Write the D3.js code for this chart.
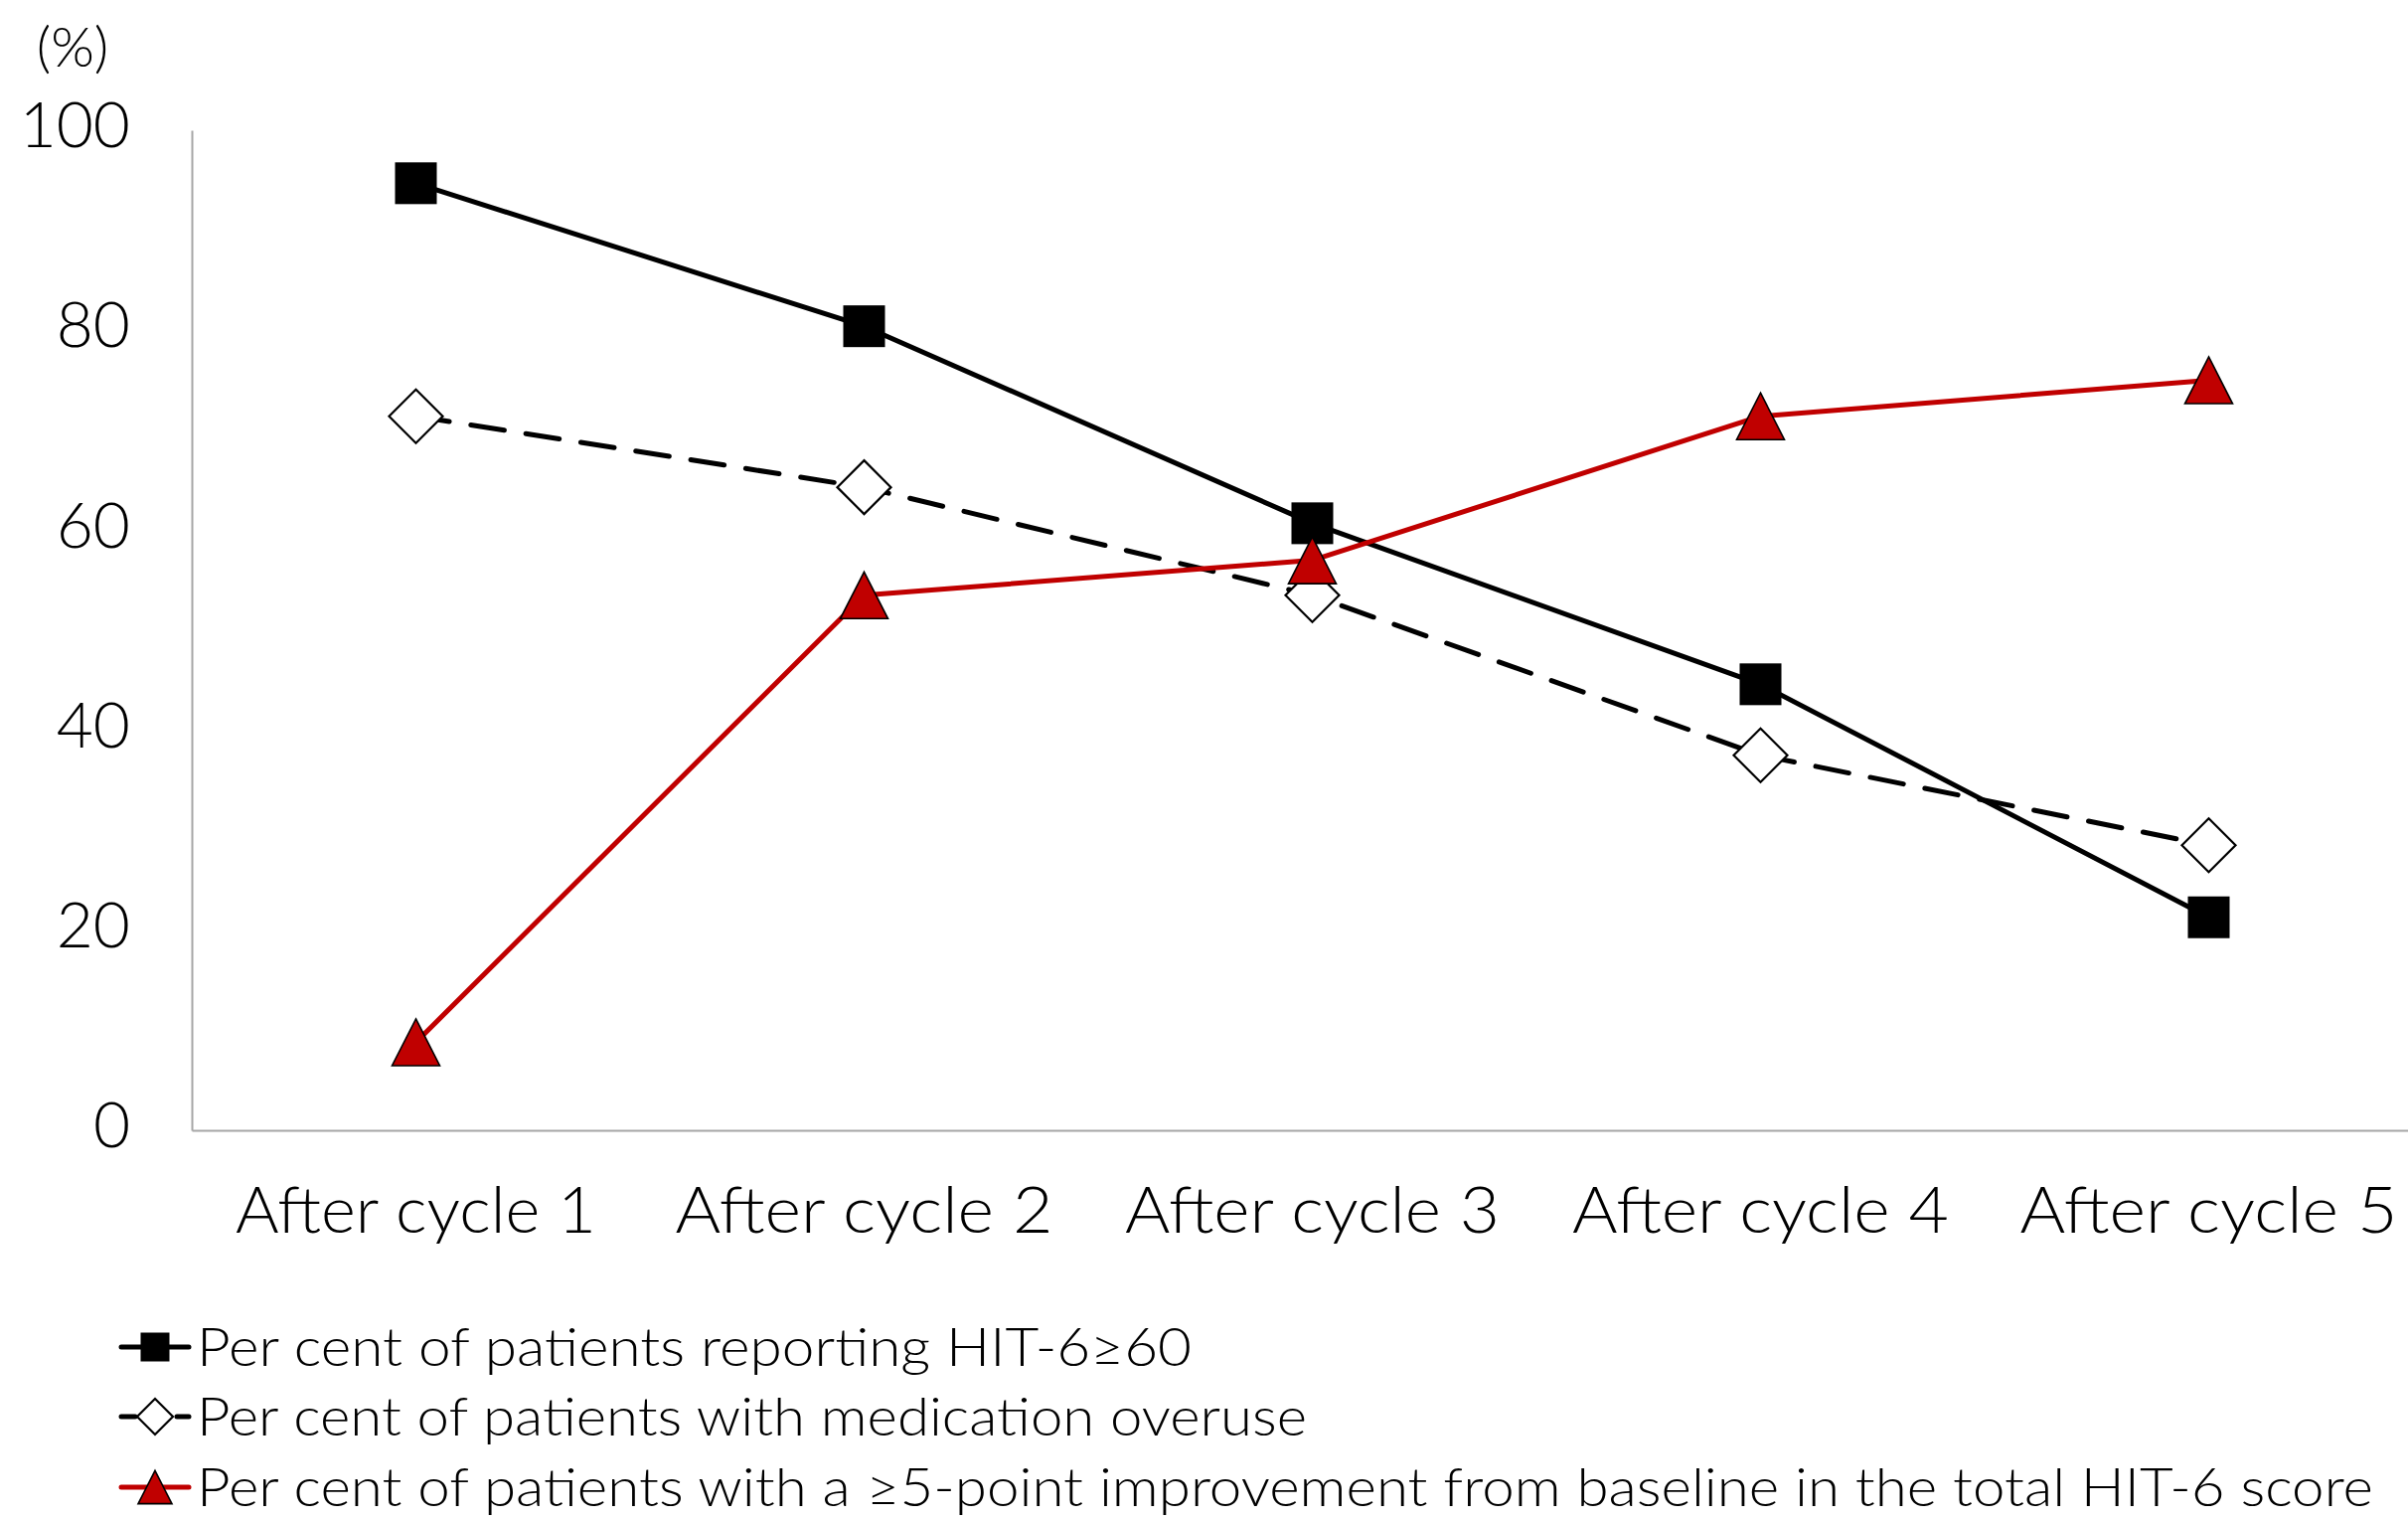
<!DOCTYPE html>
<html>
<head>
<meta charset="utf-8">
<script src="https://cdn.jsdelivr.net/npm/d3@7"></script>
<style>
  html, body { margin: 0; padding: 0; background: #fff; }
  svg text { font-family: "Lato", "Noto Sans", sans-serif; font-weight: 300; fill: #000; }
</style>
</head>
<body>
<svg id="chart" width="2423" height="1529"></svg>
<script>
// Categories and per-series percentages
const categories = ["After cycle 1", "After cycle 2", "After cycle 3", "After cycle 4", "After cycle 5"];
const hit6Above60 = [94.7, 80.4, 60.7, 44.6, 21.3];
const medicationOveruse = [71.4, 64.3, 53.5, 37.5, 28.5];
const improvement5pt = [8.8, 53.5, 57.0, 71.4, 75.0];
const yTicks = [0, 20, 40, 60, 80, 100];
const seriesNames = [
  "Per cent of patients reporting HIT-6\u226560",
  "Per cent of patients with medication overuse",
  "Per cent of patients with a \u22655-point improvement from baseline in the total HIT-6 score"
];

const svg = d3.select("#chart");
const plotLeft = 193, plotTop = 131, plotBottom = 1137, band = 451;

const x = d3.scaleBand().domain(categories).range([plotLeft, plotLeft + band * categories.length]).padding(0);
const y = d3.scaleLinear().domain([0, 100]).range([plotBottom, plotTop]);
const cx = c => x(c) + x.bandwidth() / 2;

// Axes
const yAxis = svg.append("g").attr("transform", `translate(${plotLeft},0)`)
  .call(d3.axisLeft(y).tickValues(yTicks).tickSize(0).tickPadding(62));
yAxis.select(".domain").attr("stroke", "#a6a6a6").attr("stroke-width", 2);
yAxis.selectAll("text").attr("font-size", 64).attr("dy", "0.26em")
  .style("font-family", "Lato, sans-serif").style("font-weight", 300);

const labelWidths = [363, 380, 377, 379, 380];
const xAxis = svg.append("g").attr("transform", `translate(0,${plotBottom})`)
  .call(d3.axisBottom(x).tickSize(0));
xAxis.select(".domain").attr("stroke", "#a6a6a6").attr("stroke-width", 2);
xAxis.selectAll("text").attr("font-size", 66).attr("y", 103).attr("dy", 0)
  .attr("textLength", (d, i) => labelWidths[i]).attr("lengthAdjust", "spacingAndGlyphs")
  .style("font-family", "Lato, sans-serif").style("font-weight", 300);

// Unit label
svg.append("text").attr("x", 73).attr("y", 67).attr("text-anchor", "middle")
  .attr("font-size", 56).text("(%)");

// Marker shapes
function drawMarker(g, type, px, py, s) {
  if (type === "square") {
    g.append("rect").attr("x", px - s / 2).attr("y", py - s / 2).attr("width", s).attr("height", s)
      .attr("fill", "#000");
  } else if (type === "diamond") {
    const h = s / 2;
    g.append("path").attr("d", `M${px},${py - h}L${px + h},${py}L${px},${py + h}L${px - h},${py}Z`)
      .attr("fill", "#fff").attr("stroke", "#000").attr("stroke-width", 2.2);
  } else {
    const w = s, hh = s * 0.98;
    g.append("path").attr("d", `M${px},${py - hh / 2}L${px + w / 2},${py + hh / 2}L${px - w / 2},${py + hh / 2}Z`)
      .attr("fill", "#c00000").attr("stroke", "#000").attr("stroke-width", 1.6);
  }
}

const series = [
  { values: hit6Above60, marker: "square", size: 42, color: "#000", dash: null },
  { values: medicationOveruse, marker: "diamond", size: 54, color: "#000", dash: "34 22" },
  { values: improvement5pt, marker: "triangle", size: 48, color: "#c00000", dash: null }
];

const line = d3.line().x(d => cx(d.c)).y(d => y(d.v));

series.forEach(s => {
  const pts = categories.map((c, i) => ({ c, v: s.values[i] }));
  const g = svg.append("g");
  g.append("path").datum(pts).attr("d", line).attr("fill", "none")
    .attr("stroke", s.color).attr("stroke-width", 5)
    .attr("stroke-linecap", "round").attr("stroke-linejoin", "round")
    .attr("stroke-dasharray", s.dash);
  pts.forEach(p => drawMarker(g, s.marker, cx(p.c), y(p.v), s.size));
});

// Legend
const legendY = [1355, 1425, 1496];
const legendWidths = [1001, 1117, 2190];
series.forEach((s, i) => {
  const g = svg.append("g");
  const ly = legendY[i];
  if (s.dash) {
    g.append("line").attr("x1", 122).attr("x2", 136).attr("y1", ly).attr("y2", ly)
      .attr("stroke", s.color).attr("stroke-width", 5).attr("stroke-linecap", "round");
    g.append("line").attr("x1", 178).attr("x2", 190).attr("y1", ly).attr("y2", ly)
      .attr("stroke", s.color).attr("stroke-width", 5).attr("stroke-linecap", "round");
  } else {
    g.append("line").attr("x1", 122).attr("x2", 190).attr("y1", ly).attr("y2", ly)
      .attr("stroke", s.color).attr("stroke-width", 5).attr("stroke-linecap", "round");
  }
  const ms = s.marker === "square" ? 29 : (s.marker === "diamond" ? 36 : 34);
  drawMarker(g, s.marker, 156, ly, ms);
  g.append("text").attr("x", 198).attr("y", ly + 19).attr("font-size", 54)
    .attr("textLength", legendWidths[i]).attr("lengthAdjust", "spacingAndGlyphs")
    .text(seriesNames[i]);
});
</script>
</body>
</html>
